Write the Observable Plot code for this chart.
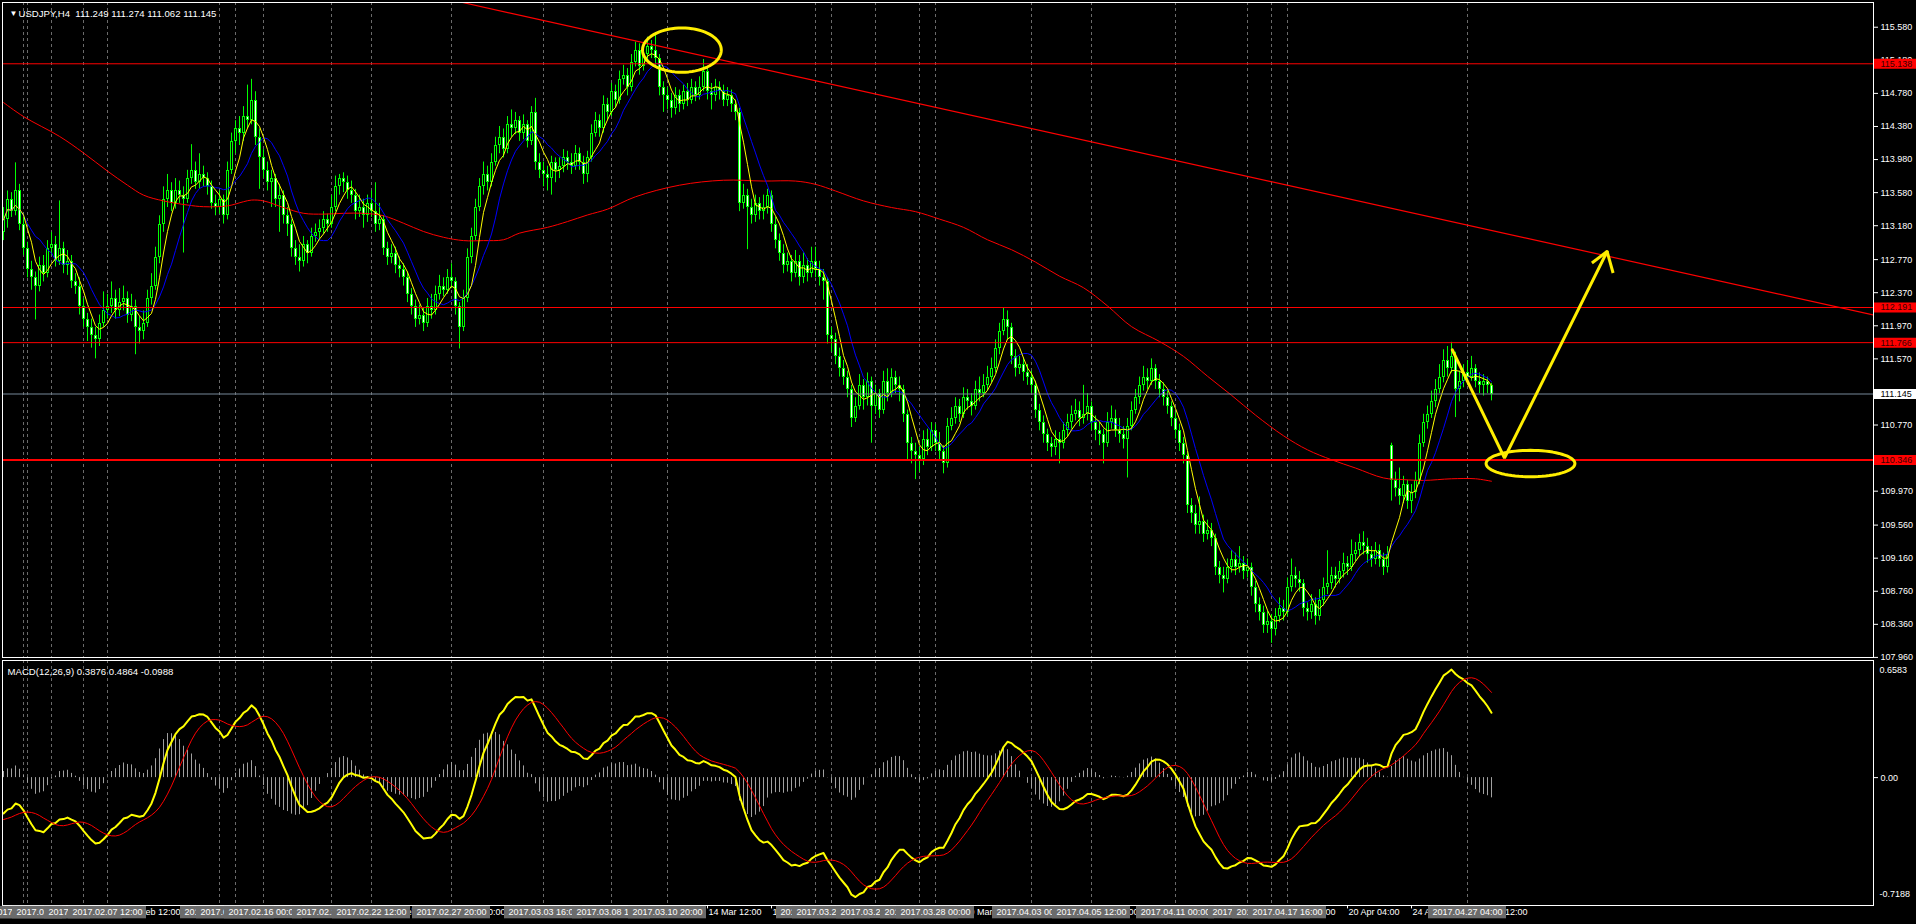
<!DOCTYPE html>
<html><head><meta charset="utf-8">
<script src="https://cdn.jsdelivr.net/npm/d3@7"></script>
<script src="https://cdn.jsdelivr.net/npm/@observablehq/plot@0.6"></script>
<style>
html,body{margin:0;padding:0;background:#000;}
#chart{position:relative;width:1916px;height:924px;overflow:hidden;background:#000;}
#chart svg{position:absolute;left:0;overflow:visible;}
</style></head><body><div id="chart"></div>
<script>
// ---------------- DATA ----------------
const symbol = "USDJPY,H4";
const open = [113.10,113.25,113.50,113.35,113.60,113.20,112.90,112.65,112.55,112.45,
112.70,112.60,112.90,112.95,112.75,112.90,112.70,112.75,112.50,112.45,
112.20,112.05,111.95,111.85,111.80,112.00,112.15,112.20,112.30,112.15,
112.25,112.30,112.10,112.20,111.95,111.90,112.00,112.30,112.45,112.80,
113.20,113.50,113.60,113.45,113.60,113.55,113.50,113.75,113.85,113.70,
113.80,113.75,113.65,113.45,113.40,113.50,113.30,113.85,114.20,114.35,
114.30,114.50,114.45,114.70,114.25,114.00,113.85,113.70,113.75,113.50,
113.55,113.30,113.20,112.90,112.80,112.75,112.95,112.85,113.05,113.10,
113.15,113.25,113.20,113.40,113.65,113.75,113.70,113.60,113.55,113.35,
113.40,113.30,113.45,113.35,113.20,113.25,112.90,112.80,112.85,112.70,
112.65,112.55,112.35,112.20,112.05,112.10,112.00,112.20,112.15,112.35,
112.45,112.40,112.55,112.50,112.20,111.95,112.30,112.80,113.05,113.40,
113.65,113.80,113.70,113.95,114.15,114.25,114.10,114.40,114.35,114.45,
114.30,114.40,114.20,114.55,113.95,113.85,113.80,113.75,113.95,113.85,
113.90,114.00,113.95,113.90,114.05,113.95,113.80,114.00,114.30,114.45,
114.35,114.65,114.55,114.80,114.70,114.95,115.00,114.85,115.15,115.30,
115.10,115.25,115.35,115.30,115.20,114.85,114.75,114.70,114.60,114.75,
114.65,114.80,114.70,114.85,114.75,114.85,115.05,114.80,114.75,114.85,
114.80,114.70,114.75,114.65,114.55,113.45,113.55,113.40,113.30,113.45,
113.35,113.40,113.55,113.20,113.00,112.85,112.70,112.75,112.60,112.75,
112.55,112.70,112.60,112.75,112.65,112.55,112.50,111.85,111.80,111.60,
111.45,111.35,111.20,110.85,111.00,111.25,111.10,111.30,111.00,111.15,
110.95,111.30,111.15,111.35,111.25,111.20,110.90,110.55,110.45,110.40,
110.35,110.60,110.50,110.70,110.55,110.45,110.30,110.75,110.85,111.00,
110.90,111.10,111.05,111.00,111.20,111.15,111.25,111.35,111.45,111.70,
111.90,112.05,111.95,111.60,111.45,111.50,111.40,111.35,111.25,110.95,
110.80,110.65,110.55,110.50,110.60,110.55,110.70,110.80,110.90,110.95,
110.85,110.90,111.00,110.80,110.70,110.65,110.55,110.80,110.85,110.70,
110.65,110.60,110.75,110.95,111.10,111.25,111.35,111.30,111.45,111.30,
111.20,111.10,111.00,110.85,110.70,110.55,110.40,109.80,109.70,109.55,
109.60,109.45,109.50,109.40,109.05,108.95,108.90,109.05,109.15,109.05,
109.10,109.00,109.05,108.80,108.60,108.50,108.35,108.40,108.30,108.45,
108.55,108.50,108.80,108.95,108.90,108.85,108.55,108.50,108.60,108.45,
108.65,108.80,108.85,108.95,108.90,109.00,109.10,109.05,109.20,109.25,
109.35,109.30,109.20,109.15,109.25,109.15,109.05,110.52,110.10,110.00,
109.90,110.05,109.85,109.95,110.10,110.55,110.80,110.90,111.05,111.20,
111.35,111.55,111.45,111.60,111.20,111.30,111.40,111.35,111.45,111.30,
111.25,111.30,111.249];
const high = [113.40,113.60,113.58,113.94,113.68,113.28,112.98,112.75,112.62,112.80,
112.82,113.00,113.10,113.05,113.48,112.98,112.88,112.82,112.60,112.55,
112.30,112.12,112.05,111.95,112.10,112.38,112.35,112.50,112.40,112.42,
112.45,112.38,112.35,112.28,112.08,112.15,112.40,112.60,112.92,113.30,
113.65,113.80,113.70,113.75,113.72,113.65,113.85,114.16,113.95,114.05,
113.90,113.82,113.72,113.55,113.60,113.55,113.95,114.30,114.45,114.50,
114.62,114.88,114.95,114.80,114.35,114.10,113.95,113.85,113.80,113.68,
113.60,113.40,113.25,113.00,112.95,113.05,113.00,113.15,113.20,113.25,
113.35,113.32,113.55,113.78,113.80,113.82,113.78,113.72,113.62,113.55,
113.50,113.55,113.60,113.70,113.45,113.30,112.98,112.95,112.92,112.80,
112.72,112.62,112.42,112.28,112.22,112.18,112.30,112.35,112.45,112.58,
112.55,112.65,112.72,112.55,112.25,112.40,112.90,113.15,113.50,113.75,
113.95,113.90,114.05,114.25,114.38,114.35,114.50,114.58,114.55,114.50,
114.52,114.45,114.62,114.72,114.05,113.95,113.90,114.02,114.00,114.00,
114.10,114.08,114.05,114.15,114.12,114.02,114.08,114.40,114.55,114.52,
114.75,114.72,114.90,114.88,115.05,115.12,115.08,115.25,115.40,115.38,
115.35,115.46,115.42,115.50,115.25,114.92,114.85,114.78,114.85,114.82,
114.88,114.90,114.95,114.92,114.98,115.19,115.10,114.90,114.95,114.92,
114.88,114.85,114.82,114.70,114.60,113.68,113.62,113.50,113.55,113.52,
113.55,113.62,113.60,113.28,113.08,112.95,112.85,112.82,112.88,112.82,
112.85,112.78,112.92,112.92,112.75,112.65,112.55,111.95,111.88,111.70,
111.55,111.42,111.25,111.10,111.38,111.32,111.40,111.35,111.25,111.20,
111.42,111.45,111.45,111.42,111.35,111.25,110.95,110.62,110.55,110.50,
110.70,110.72,110.80,110.78,110.68,110.52,110.85,110.98,111.10,111.08,
111.22,111.20,111.15,111.30,111.35,111.38,111.48,111.58,111.80,112.00,
112.18,112.15,112.00,111.68,111.60,111.58,111.50,111.42,111.30,111.02,
110.88,110.72,110.62,110.70,110.68,110.80,110.90,111.00,111.08,111.05,
111.25,111.15,111.05,110.88,110.80,110.72,110.92,111.00,110.95,110.85,
110.75,110.85,111.05,111.20,111.35,111.48,111.45,111.57,111.50,111.38,
111.28,111.18,111.05,110.92,110.78,110.62,110.45,109.88,109.80,109.90,
109.68,109.62,109.58,109.45,109.12,109.05,109.15,109.25,109.22,109.30,
109.18,109.15,109.10,108.88,108.68,108.58,108.52,108.48,108.55,108.68,
108.65,108.92,109.15,109.05,109.00,108.90,108.62,108.72,108.68,108.78,
108.92,109.25,109.05,109.05,109.12,109.22,109.18,109.38,109.35,109.45,
109.48,109.40,109.30,109.35,109.32,109.22,109.30,110.55,110.20,110.25,
110.15,110.10,110.05,110.20,110.65,110.90,111.00,111.18,111.32,111.50,
111.68,111.72,111.77,111.65,111.42,111.50,111.55,111.60,111.50,111.40,
111.38,111.35,111.274];
const low = [113.00,113.15,113.28,113.30,113.12,112.82,112.55,112.40,112.04,112.38,
112.50,112.55,112.82,112.68,112.70,112.60,112.58,112.42,112.35,112.10,
111.95,111.78,111.70,111.57,111.72,111.95,112.05,112.12,112.05,112.08,
112.15,112.00,112.02,111.62,111.75,111.80,111.95,112.22,112.40,112.72,
113.10,113.40,113.35,113.38,113.45,112.85,113.45,113.68,113.62,113.62,
113.65,113.55,113.38,113.30,113.32,113.20,113.25,113.80,114.05,114.15,
114.20,114.35,114.40,114.15,113.62,113.75,113.60,113.40,113.40,113.10,
113.20,113.05,112.80,112.70,112.62,112.68,112.72,112.80,112.98,113.02,
113.08,113.10,113.15,113.35,113.55,113.58,113.50,113.45,113.25,113.28,
113.15,113.22,113.28,113.10,113.12,112.82,112.70,112.72,112.60,112.55,
112.45,112.25,112.10,111.95,111.98,111.90,111.95,112.05,112.10,112.28,
112.32,112.35,112.42,112.10,111.69,111.90,112.25,112.72,113.00,113.35,
113.55,113.60,113.65,113.90,114.05,114.00,114.05,114.25,114.28,114.20,
114.22,114.12,114.15,113.85,113.75,113.65,113.60,113.55,113.70,113.75,
113.82,113.85,113.80,113.85,113.85,113.68,113.70,113.95,114.25,114.25,
114.30,114.45,114.50,114.60,114.65,114.88,114.75,114.80,115.10,115.00,
115.05,115.18,115.20,115.10,114.75,114.55,114.58,114.48,114.52,114.55,
114.58,114.62,114.65,114.68,114.70,114.80,114.70,114.58,114.68,114.70,
114.62,114.62,114.55,114.45,113.35,113.38,112.89,113.20,113.22,113.25,
113.25,113.32,113.10,112.90,112.75,112.60,112.62,112.50,112.55,112.45,
112.48,112.50,112.55,112.55,112.45,112.28,111.75,111.65,111.50,111.35,
111.25,111.10,110.74,110.80,110.95,110.95,111.00,110.55,110.90,110.85,
110.90,111.05,111.10,111.15,111.05,110.80,110.35,110.30,110.11,110.20,
110.28,110.40,110.45,110.45,110.35,110.18,110.25,110.70,110.78,110.80,
110.85,110.95,110.88,110.95,111.05,111.10,111.18,111.28,111.40,111.62,
111.85,111.80,111.50,111.35,111.38,111.30,111.25,111.15,110.85,110.70,
110.55,110.45,110.38,110.40,110.30,110.48,110.62,110.72,110.82,110.75,
110.78,110.82,110.70,110.58,110.52,110.30,110.50,110.72,110.62,110.55,
110.48,110.13,110.70,110.90,111.02,111.18,111.20,111.25,111.20,111.10,
111.00,110.90,110.75,110.60,110.45,110.30,109.70,109.58,109.45,109.45,
109.35,109.38,109.30,108.95,108.85,108.74,108.85,108.98,108.95,108.98,
108.90,108.92,108.70,108.50,108.40,108.25,108.25,108.13,108.22,108.38,
108.40,108.45,108.75,108.80,108.75,108.45,108.40,108.42,108.35,108.40,
108.58,108.72,108.78,108.80,108.85,108.92,108.95,109.00,109.12,109.18,
109.20,109.10,109.05,109.08,109.05,108.95,108.98,109.85,109.90,109.80,
109.82,109.75,109.70,109.88,110.05,110.50,110.72,110.85,110.98,111.15,
111.28,111.35,111.40,110.86,111.05,111.22,111.25,111.30,111.22,111.15,
111.12,111.15,111.062];
const close = [113.25,113.50,113.35,113.60,113.20,112.90,112.65,112.55,112.45,112.70,
112.60,112.90,112.95,112.75,112.90,112.70,112.75,112.50,112.45,112.20,
112.05,111.95,111.85,111.80,112.00,112.15,112.20,112.30,112.15,112.25,
112.30,112.10,112.20,111.95,111.90,112.00,112.30,112.45,112.80,113.20,
113.50,113.60,113.45,113.60,113.55,113.50,113.75,113.85,113.70,113.80,
113.75,113.65,113.45,113.40,113.50,113.30,113.85,114.20,114.35,114.30,
114.50,114.45,114.70,114.25,114.00,113.85,113.70,113.75,113.50,113.55,
113.30,113.20,112.90,112.80,112.75,112.95,112.85,113.05,113.10,113.15,
113.25,113.20,113.40,113.65,113.75,113.70,113.60,113.55,113.35,113.40,
113.30,113.45,113.35,113.20,113.25,112.90,112.80,112.85,112.70,112.65,
112.55,112.35,112.20,112.05,112.10,112.00,112.20,112.15,112.35,112.45,
112.40,112.55,112.50,112.20,111.95,112.30,112.80,113.05,113.40,113.65,
113.80,113.70,113.95,114.15,114.25,114.10,114.40,114.35,114.45,114.30,
114.40,114.20,114.55,113.95,113.85,113.80,113.75,113.95,113.85,113.90,
114.00,113.95,113.90,114.05,113.95,113.80,114.00,114.30,114.45,114.35,
114.65,114.55,114.80,114.70,114.95,115.00,114.85,115.15,115.30,115.10,
115.25,115.35,115.30,115.20,114.85,114.75,114.70,114.60,114.75,114.65,
114.80,114.70,114.85,114.75,114.85,115.05,114.80,114.75,114.85,114.80,
114.70,114.75,114.65,114.55,113.45,113.55,113.40,113.30,113.45,113.35,
113.40,113.55,113.20,113.00,112.85,112.70,112.75,112.60,112.75,112.55,
112.70,112.60,112.75,112.65,112.55,112.50,111.85,111.80,111.60,111.45,
111.35,111.20,110.85,111.00,111.25,111.10,111.30,111.00,111.15,110.95,
111.30,111.15,111.35,111.25,111.20,110.90,110.55,110.45,110.40,110.35,
110.60,110.50,110.70,110.55,110.45,110.30,110.75,110.85,111.00,110.90,
111.10,111.05,111.00,111.20,111.15,111.25,111.35,111.45,111.70,111.90,
112.05,111.95,111.60,111.45,111.50,111.40,111.35,111.25,110.95,110.80,
110.65,110.55,110.50,110.60,110.55,110.70,110.80,110.90,110.95,110.85,
110.90,111.00,110.80,110.70,110.65,110.55,110.80,110.85,110.70,110.65,
110.60,110.75,110.95,111.10,111.25,111.35,111.30,111.45,111.30,111.20,
111.10,111.00,110.85,110.70,110.55,110.40,109.80,109.70,109.55,109.60,
109.45,109.50,109.40,109.05,108.95,108.90,109.05,109.15,109.05,109.10,
109.00,109.05,108.80,108.60,108.50,108.35,108.40,108.30,108.45,108.55,
108.50,108.80,108.95,108.90,108.85,108.55,108.50,108.60,108.45,108.65,
108.80,108.85,108.95,108.90,109.00,109.10,109.05,109.20,109.25,109.35,
109.30,109.20,109.15,109.25,109.15,109.05,109.20,110.10,110.00,109.90,
110.05,109.85,109.95,110.10,110.55,110.80,110.90,111.05,111.20,111.35,
111.55,111.45,111.60,111.20,111.30,111.40,111.35,111.45,111.30,111.25,
111.30,111.249,111.145];

// long red moving average (bar index, value)
const ma200 = [[0,114.67],[5,114.50],[14,114.26],[20,114.06],[26,113.84],[31,113.67],[35,113.55],[40,113.48],[46,113.43],[50,113.41],[56,113.42],[60,113.47],[62,113.49],[65,113.48],[70,113.40],[75,113.33],[80,113.32],[85,113.33],[90,113.33],[95,113.30],[100,113.21],[105,113.11],[110,113.04],[115,113.00],[120,113.00],[125,113.01],[129,113.09],[136,113.16],[141,113.23],[146,113.31],[151,113.38],[158,113.53],[169,113.67],[180,113.73],[190,113.72],[198,113.72],[203,113.68],[208,113.60],[215,113.48],[222,113.40],[228,113.35],[234,113.26],[240,113.16],[246,113.01],[252,112.89],[258,112.74],[264,112.57],[270,112.43],[276,112.21],[282,111.96],[289,111.78],[295,111.60],[301,111.36],[307,111.13],[313,110.89],[320,110.64],[326,110.47],[332,110.35],[338,110.25],[345,110.13],[350,110.11],[355,110.10],[362,110.12],[368,110.12],[372,110.09]];

const priceTicks = [115.580,115.180,114.780,114.380,113.980,113.580,113.180,112.770,112.370,111.970,111.570,111.170,110.770,110.370,109.970,109.560,109.160,108.760,108.360,107.960];
const levelPrices = [115.138, 112.191, 111.766, 110.346];
const levelWidths = [1, 1, 1, 2];
const lastPrice = 111.145;
const trendBars = [114.75, 467.5];
const trendPrices = [115.879, 112.100];

// vertical line objects: bar index and their time labels
const vLineBars = [5,6,12,20,26,54,58,65,82,92,112,135,152,166,203,207,218,229,233,257,272,293,311,317,321,366];
const vLineTimes = ["2017.02.02 00:00","2017.02.02 04:00","2017.02.03 04:00","2017.02.06 12:00","2017.02.07 12:00","2017.02.14 04:00","2017.02.14 20:00","2017.02.16 00:00","2017.02.20 20:00","2017.02.22 12:00","2017.02.27 20:00","2017.03.03 16:00","2017.03.08 12:00","2017.03.10 20:00","2017.03.21 00:00","2017.03.21 16:00","2017.03.23 12:00","2017.03.27 08:00","2017.03.28 00:00","2017.04.03 00:00","2017.04.05 12:00","2017.04.11 00:00","2017.04.14 00:00","2017.04.17 00:00","2017.04.17 16:00","2017.04.27 04:00"];
// regular time axis labels
const timeBars = [0,16,32,48,64,80,96,112,128,144,160,176,192,208,224,240,256,272,288,304,320,336,352,368];
const timeLabels = ["1 Feb 04:00","3 Feb 20:00","8 Feb 12:00","13 Feb 04:00","15 Feb 20:00","20 Feb 12:00","23 Feb 04:00","27 Feb 20:00","2 Mar 12:00","7 Mar 04:00","9 Mar 20:00","14 Mar 12:00","17 Mar 04:00","21 Mar 20:00","24 Mar 12:00","29 Mar 04:00","31 Mar 20:00","5 Apr 12:00","10 Apr 04:00","12 Apr 20:00","17 Apr 12:00","20 Apr 04:00","24 Apr 20:00","27 Apr 12:00"];

// hand-drawn annotations (bar index, price)
const ellipses = [{ci:169.6, cp:115.304, ri:9.85, rp:0.268}, {ci:381.75, cp:110.304, ri:11.1, rp:0.16}];
const arrowBars = [362.2, 375.25, 400.9];
const arrowPrices = [111.679, 110.371, 112.868];
const arrowHeadBars = [397.1, 402.4];
const arrowHeadPrices = [112.73, 112.608];

// MACD settings / panel range
const macdMax = 0.6583, macdMin = -0.7188;
const macdHeader = "MACD(12,26,9) 0.3876 0.4864 -0.0988";
const ema12Seed = 113.45, ema26Seed = 113.65, signalSeed = -0.24;

// ---------------- BUILD ----------------
const N = close.length;
const bars = close.map((c, i) => ({i, o: open[i], h: high[i], l: low[i], c}));
const maLong = ma200.map(([i, v]) => ({i, v}));
const levels = levelPrices.map((p, k) => ({p, w: levelWidths[k]}));
const vLines = vLineBars.map((bar, k) => ({bar, label: vLineTimes[k]}));
const tLabels = timeBars.map((bar, k) => ({bar, label: timeLabels[k]}));
const trend = {x1: trendBars[0], y1: trendPrices[0], x2: trendBars[1], y2: trendPrices[1]};
const arrow = arrowBars.map((i, k) => ({i, p: arrowPrices[k]}));
const heads = arrowHeadBars.map((i, k) => ({x1: arrowBars[2], y1: arrowPrices[2], x2: i, y2: arrowHeadPrices[k]}));
const ellipsePts = e => d3.range(0, 73).map(k => { const t = 2 * Math.PI * k / 72; return {i: e.ci + e.ri * Math.cos(t), p: e.cp + e.rp * Math.sin(t)}; });

function ema(vals, n, seed) { const a = 2 / (n + 1); let e = seed; return vals.map(v => (e += a * (v - e))); }
const e12 = ema(close, 12, ema12Seed), e26 = ema(close, 26, ema26Seed);
const macdMain = e12.map((v, i) => v - e26[i]);
const macdSig = macdMain.map((v, i) => d3.mean(d3.range(i - 8, i + 1), k => k >= 0 ? macdMain[k] : signalSeed));
const macd = macdMain.map((m, i) => ({i, m, s: macdSig[i], h: m - macdSig[i]}));

const xDomain = [-0.25, 467.5];
const W = 1916, ML = 2, MR = 43;
const style = {background: "transparent", color: "#fff", fontFamily: "'Liberation Sans', Arial, sans-serif", fontSize: "9px", overflow: "visible"};
const LIME = "#00ff00", RED = "#ff0000", YEL = "#ffff00", DASH = "#6a6a6a", ANN = "#ffee00";

const mainPlot = Plot.plot({
  width: W, height: 658, marginLeft: ML, marginRight: MR, marginTop: 2, marginBottom: 1,
  x: {type: "linear", domain: xDomain, axis: null},
  y: {domain: [107.959, 115.879], axis: null},
  style,
  marks: [
    Plot.ruleX(vLines, {x: "bar", stroke: DASH, strokeDasharray: "3,3"}),
    Plot.ruleX(bars, {x: "i", y1: "l", y2: "h", stroke: LIME}),
    Plot.rect(bars, {x1: d => d.i - 0.25, x2: d => d.i + 0.5, y1: "o", y2: "c", fill: LIME, shapeRendering: "crispEdges"}),
    Plot.rect(bars, {x1: d => d.i, x2: d => d.i + 0.25, y1: "o", y2: "c", insetTop: 1, insetBottom: 1, fill: d => d.c >= d.o ? "#000" : "#fff", shapeRendering: "crispEdges"}),
    Plot.line(maLong, {x: "i", y: "v", stroke: RED, strokeWidth: 1, curve: "catmull-rom"}),
    Plot.lineY(bars, Plot.windowY({k: 10, anchor: "end"}, {x: "i", y: "c", stroke: "#0000ff", strokeWidth: 1})),
    Plot.lineY(bars, Plot.windowY({k: 5, anchor: "end"}, {x: "i", y: "c", stroke: YEL, strokeWidth: 1})),
    Plot.ruleY(levels, {y: "p", stroke: RED, strokeWidth: "w"}),
    Plot.ruleY([lastPrice], {stroke: "#778899"}),
    Plot.link([trend], {x1: "x1", y1: "y1", x2: "x2", y2: "y2", stroke: RED, strokeWidth: 1.2, clip: true}),
    ...ellipses.map(e => Plot.line(ellipsePts(e), {x: "i", y: "p", stroke: ANN, strokeWidth: 3})),
    Plot.line(arrow, {x: "i", y: "p", stroke: ANN, strokeWidth: 3, strokeLinejoin: "miter"}),
    Plot.link(heads, {x1: "x1", y1: "y1", x2: "x2", y2: "y2", stroke: ANN, strokeWidth: 3}),
    Plot.frame({stroke: "#fff"}),
    Plot.axisY({anchor: "right", ticks: priceTicks, tickFormat: d => d.toFixed(3), tickSize: 4, tickPadding: 3, stroke: "#fff", fill: "#fff"}),
    Plot.ruleY(levels, {y: "p", x1: xDomain[1] + 0.25, x2: xDomain[1] + 12, stroke: RED, strokeWidth: 10}),
    Plot.text(levels, {y: "p", x: xDomain[1] + 0.25, text: d => d.p.toFixed(3), textAnchor: "start", dx: 6, fill: "#3a0000"}),
    Plot.ruleY([lastPrice], {x1: xDomain[1] + 0.25, x2: xDomain[1] + 12, stroke: "#fff", strokeWidth: 10}),
    Plot.text([lastPrice], {y: d => d, x: xDomain[1] + 0.25, text: d => d.toFixed(3), textAnchor: "start", dx: 6, fill: "#000"}),
    Plot.text(["\u25BC"], {frameAnchor: "top-left", dx: 7, dy: 8, textAnchor: "start", fontSize: 8, fill: "#fff"}),
    Plot.text([`${symbol}  ${open[N-1].toFixed(3)} ${high[N-1].toFixed(3)} ${low[N-1].toFixed(3)} ${close[N-1].toFixed(3)}`], {frameAnchor: "top-left", dx: 16, dy: 8, textAnchor: "start", fill: "#fff", fontSize: 9.6})
  ]
});

const macdPlot = Plot.plot({
  width: W, height: 248, marginLeft: ML, marginRight: MR, marginTop: 2, marginBottom: 1,
  x: {type: "linear", domain: xDomain, axis: null},
  y: {domain: [macdMin, macdMax], axis: null},
  style,
  marks: [
    Plot.ruleX(vLines, {x: "bar", stroke: DASH, strokeDasharray: "3,3"}),
    Plot.ruleX(macd, {x: "i", y1: 0, y2: "h", stroke: "#a0a0a0"}),
    Plot.line(macd, {x: "i", y: "m", stroke: YEL, strokeWidth: 2}),
    Plot.line(macd, {x: "i", y: "s", stroke: RED, strokeWidth: 1}),
    Plot.frame({stroke: "#fff"}),
    Plot.axisY({anchor: "right", ticks: [0], tickFormat: d => d.toFixed(2), tickSize: 4, tickPadding: 3, stroke: "#fff", fill: "#fff"}),
    Plot.text([macdMax], {frameAnchor: "top-right", text: d => d.toFixed(4), textAnchor: "start", dx: 6, dy: 6, fill: "#fff"}),
    Plot.text([macdMin], {frameAnchor: "bottom-right", text: d => d.toFixed(4), textAnchor: "start", dx: 6, dy: -9, fill: "#fff"}),
    Plot.text([macdHeader], {frameAnchor: "top-left", dx: 5, dy: 8, textAnchor: "start", fill: "#fff", fontSize: 9.6})
  ]
});

const halfBox = 9.75;
const timePlot = Plot.plot({
  width: W, height: 19, marginLeft: ML, marginRight: MR, marginTop: 0, marginBottom: 0,
  x: {type: "linear", domain: xDomain, axis: null},
  y: {domain: [0, 1], axis: null},
  style,
  marks: [
    Plot.ruleX(tLabels, {x: "bar", y1: 0.82, y2: 1, stroke: "#fff"}),
    Plot.text(tLabels, {x: "bar", y: 0.63, text: "label", textAnchor: "start", dx: 1, fill: "#fff"}),
    ...vLines.flatMap(v => [
      Plot.rect([v], {x1: d => d.bar - halfBox, x2: d => d.bar + halfBox, y1: 0.3, y2: 0.95, fill: "#6b6b6b"}),
      Plot.text([v], {x: "bar", y: 0.63, text: "label", fill: "#fff"})
    ])
  ]
});

const root = document.getElementById("chart");
mainPlot.style.top = "0px"; root.appendChild(mainPlot);
macdPlot.style.top = "658px"; root.appendChild(macdPlot);
timePlot.style.top = "905px"; root.appendChild(timePlot);
</script></body></html>
